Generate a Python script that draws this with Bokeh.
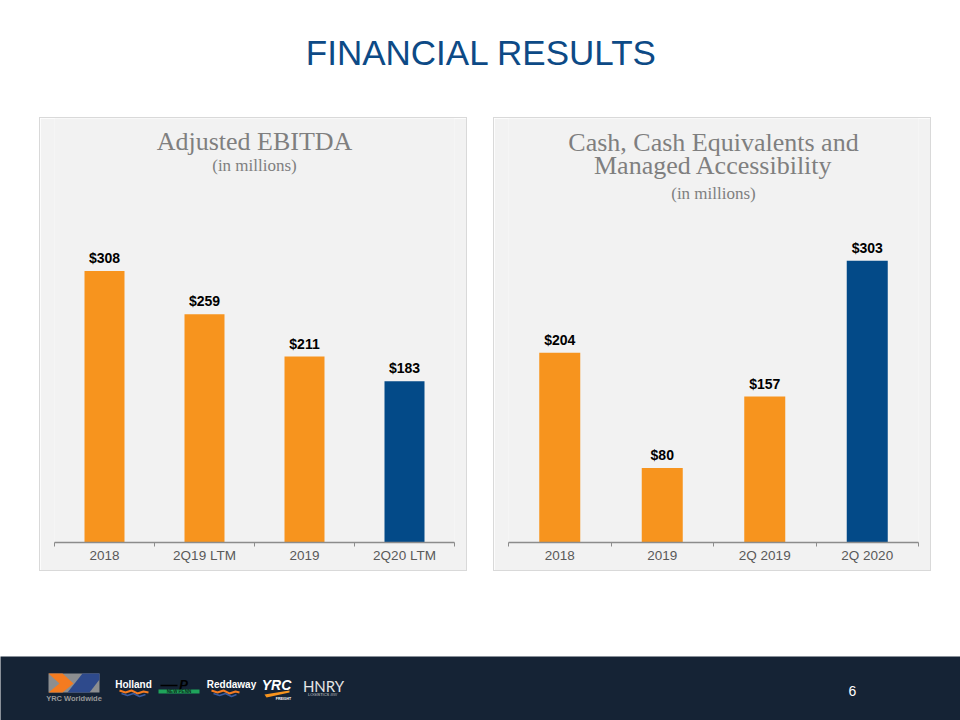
from bokeh.plotting import figure
from bokeh.models import Range1d, FixedTicker, Label, Spacer
from bokeh.layouts import column, row
from bokeh.embed import file_html
from bokeh.resources import INLINE
from bokeh.core.properties import value

# ---------------- data ----------------
ebitda_periods = ["2018", "2Q19 LTM", "2019", "2Q20 LTM"]
ebitda_values = [308, 259, 211, 183]
cash_periods = ["2018", "2019", "2Q 2019", "2Q 2020"]
cash_values = [204, 80, 157, 303]

ORANGE = "#F7941E"
BLUE = "#034A88"
ebitda_colors = [ORANGE, ORANGE, ORANGE, BLUE]
cash_colors = [ORANGE, ORANGE, ORANGE, BLUE]

SANS = "Liberation Sans"
SERIF = "Liberation Serif"
PANEL_BG = "#F2F2F2"
FOOTER_BG = "#152335"


def panel(periods, values, colors, y_max, width, height, border_bottom, titles):
    n = len(periods)
    centers = [i + 0.5 for i in range(n)]
    p = figure(width=width, height=height,
               x_range=Range1d(0, n), y_range=Range1d(0, y_max),
               output_backend="svg", toolbar_location=None,
               y_axis_location=None,
               min_border_left=14, min_border_right=14,
               min_border_top=0, min_border_bottom=border_bottom,
               background_fill_color=PANEL_BG, border_fill_color=PANEL_BG,
               outline_line_color=None,
               styles={"border": "1px solid #D9D9D9"})
    p.grid.visible = False
    p.vbar(x=centers, top=values, width=0.4, fill_color=colors, line_color=None)
    p.text(x=centers, y=values, text=[f"${v}" for v in values],
           text_align="center", text_baseline="alphabetic", y_offset=-13,
           text_font=value(SANS), text_font_style="bold",
           text_font_size="14px", text_color="#000000")
    ax = p.xaxis[0]
    ax.ticker = FixedTicker(ticks=centers, minor_ticks=list(range(n + 1)))
    ax.major_label_overrides = {c: lab for c, lab in zip(centers, periods)}
    ax.major_tick_line_color = None
    ax.major_tick_in = 0
    ax.major_tick_out = 0
    ax.minor_tick_line_color = "#8C8C8C"
    ax.minor_tick_in = 0
    ax.minor_tick_out = 4
    ax.axis_line_color = "#8C8C8C"
    ax.axis_line_width = 1.3
    ax.major_label_standoff = 1
    ax.major_label_text_font = SANS
    ax.major_label_text_font_size = "13.5px"
    ax.major_label_text_color = "#595959"
    for text, y, size in titles:
        p.add_layout(Label(x=n / 2, y=y, x_units="data", y_units="screen",
                           text=text, text_align="center",
                           text_baseline="alphabetic",
                           text_font=SERIF, text_font_size=size,
                           text_color="#7F7F7F"))
    return p


left = panel(ebitda_periods, ebitda_values, ebitda_colors, 481, 428, 454, 29,
             [("Adjusted EBITDA", 401, "26px"),
              ("(in millions)", 377.5, "17px")])
right = panel(cash_periods, cash_values, cash_colors, 456, 438, 454, 30,
              [("Cash, Cash Equivalents and", 400, "26px"),
               ("Managed Accessibility", 377, "26px"),
               ("(in millions)", 349.5, "17px")])

# ---------------- header ----------------
header = figure(width=960, height=117, x_range=Range1d(0, 960),
                y_range=Range1d(117, 0), output_backend="svg",
                toolbar_location=None, x_axis_location=None,
                y_axis_location=None, min_border=0,
                outline_line_color=None, border_fill_color="white")
header.grid.visible = False
header.text(x=[481], y=[52], text=["FINANCIAL RESULTS"], text_align="center",
            text_baseline="alphabetic", text_font=value(SANS),
            text_font_size="35px", text_color="#0D4A86")

# ---------------- footer ----------------
footer = figure(width=960, height=64, x_range=Range1d(0, 960),
                y_range=Range1d(720, 656), output_backend="svg",
                toolbar_location=None, x_axis_location=None,
                y_axis_location=None, min_border=0,
                outline_line_color=None, background_fill_color=FOOTER_BG,
                border_fill_color=FOOTER_BG)
footer.grid.visible = False
# YRC Worldwide mark
footer.quad(left=[48], right=[99], top=[673], bottom=[692],
            fill_color="#8C8E90", line_color=None)
footer.patch(x=[48, 62, 73, 62, 48, 59], y=[673, 673, 683, 692, 692, 683],
             fill_color="#F47B20", line_color=None)
footer.patch(x=[67, 82, 99, 99, 89], y=[692, 673, 673, 679, 692],
             fill_color="#2E4A8C", line_color=None)
footer.text(x=[73.5], y=[697.5], text=["YRC Worldwide"], text_align="center",
            text_baseline="alphabetic", text_font=value(SANS),
            text_font_style="bold", text_font_size="7.5px", text_color="#9A9A9A")
# Holland
footer.text(x=[133], y=[684], text=["Holland"], text_align="center",
            text_baseline="alphabetic", text_font=value(SANS),
            text_font_style="bold", text_font_size="10px", text_color="white")
footer.line(x=[119, 125, 131, 137, 143, 148], y=[690, 692, 690, 693, 691, 692],
            line_color="#F47B20", line_width=2)
footer.line(x=[121, 127, 133, 139, 145], y=[693, 695, 693, 696, 694],
            line_color="#3A5BA0", line_width=1.5)
# New Penn
footer.quad(left=[158], right=[199], top=[689], bottom=[693],
            fill_color="#1FA35B", line_color=None)
footer.text(x=[178.5], y=[691.3], text=["NEW PENN"], text_align="center",
            text_baseline="alphabetic", text_font=value(SANS),
            text_font_style="bold", text_font_size="4.5px", text_color="#0B2A1A")
footer.line(x=[160, 177], y=[685, 685], line_color="black", line_width=1.5)
footer.text(x=[183], y=[684], text=["P"], text_align="center",
            text_baseline="alphabetic", text_font=value(SANS),
            text_font_style="bold italic", text_font_size="13px", text_color="black")
# Reddaway
footer.text(x=[231], y=[684], text=["Reddaway"], text_align="center",
            text_baseline="alphabetic", text_font=value(SANS),
            text_font_style="bold", text_font_size="10px", text_color="white")
footer.line(x=[211, 217, 223, 229, 235, 239], y=[690, 692, 690, 693, 691, 692],
            line_color="#F47B20", line_width=2)
footer.line(x=[213, 219, 225, 231, 236], y=[693, 695, 693, 696, 694],
            line_color="#3A5BA0", line_width=1.5)
# YRC Freight
footer.text(x=[276], y=[684.5], text=["YRC"], text_align="center",
            text_baseline="alphabetic", text_font=value(SANS),
            text_font_style="bold italic", text_font_size="14px", text_color="white")
footer.patch(x=[264, 289, 289, 266], y=[694, 690, 692, 697],
             fill_color="#F7941E", line_color=None)
footer.text(x=[283], y=[698], text=["FREIGHT"], text_align="center",
            text_baseline="alphabetic", text_font=value(SANS),
            text_font_style="bold", text_font_size="3.5px", text_color="white")
# HNRY
footer.text(x=[323], y=[685], text=["HNRY"], text_align="center",
            text_baseline="alphabetic", text_font=value("Lato"),
            text_font_size="15px", text_color="#E6E6E6")
footer.text(x=[322], y=[693.7], text=["LOGISTICS //////"], text_align="center",
            text_baseline="alphabetic", text_font=value(SANS),
            text_font_size="4px", text_color="#CFCFCF")
# page number
footer.text(x=[852], y=[690.4], text=["6"], text_align="center",
            text_baseline="alphabetic", text_font=value(SANS),
            text_font_size="14px", text_color="white")

layout = column(
    header,
    row(Spacer(width=39), left, Spacer(width=26), right, Spacer(width=29)),
    Spacer(height=85),
    footer,
)

open("out.html", "w").write(file_html(layout, INLINE))
